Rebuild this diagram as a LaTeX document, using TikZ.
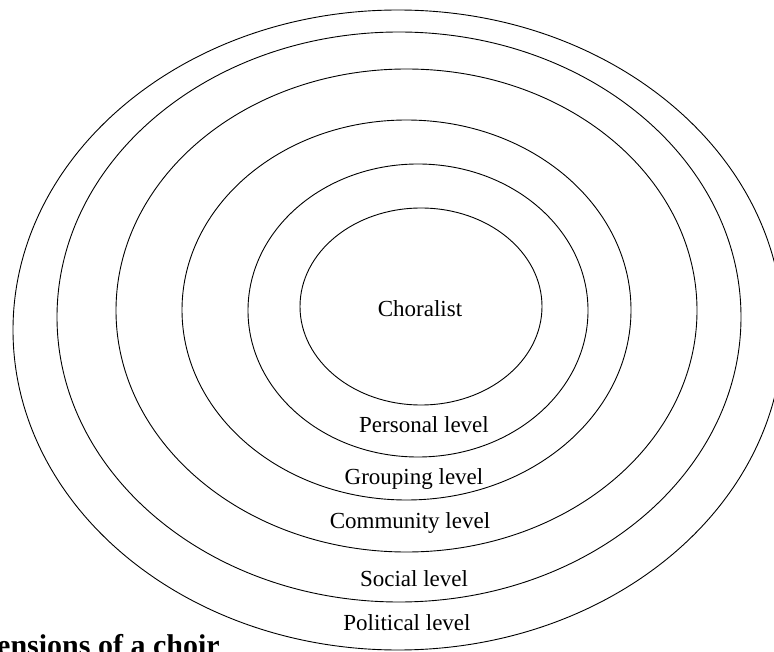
\documentclass[tikz,border=0pt]{standalone}
\usepackage{fontspec}
\setmainfont{Liberation Serif}
\usetikzlibrary{shapes.geometric}
\tikzset{
  ring/.style={ellipse, draw=black, line width=0.9pt, inner sep=0pt, outer sep=0pt},
  lvl/.style={anchor=base, inner sep=0pt, font=\fontsize{23}{27}\selectfont},
  ttl/.style={anchor=base west, inner sep=0pt, font=\fontsize{30}{34}\selectfont\bfseries}
}
\begin{document}
\begin{tikzpicture}[x=1pt,y=-1pt]
\clip (0,0) rectangle (774,652);
\fill[white] (0,0) rectangle (774,652);
\node[ring, minimum width=770pt, minimum height=640pt] (political) at (398,330) {};
\node[ring, minimum width=684pt, minimum height=570pt] (social) at (399,317) {};
\node[ring, minimum width=581pt, minimum height=483pt] (community) at (406.5,310.5) {};
\node[ring, minimum width=449pt, minimum height=380pt] (grouping) at (406.5,310) {};
\node[ring, minimum width=340pt, minimum height=293pt] (personal) at (418,310.5) {};
\node[ring, minimum width=242pt, minimum height=197pt] (choralist) at (421,306.5) {};
\node[lvl] (tchoralist) at (420,317) {Choralist};
\node[lvl] (tpersonal) at (424,432) {Personal level};
\node[lvl] (tgrouping) at (414,484) {Grouping level};
\node[lvl] (tcommunity) at (410,528) {Community level};
\node[lvl] (tsocial) at (414,586) {Social level};
\node[lvl] (tpolitical) at (407,630) {Political level};
\node[ttl] (title) at (-3,655.7) {ensions of a choir};
\end{tikzpicture}
\end{document}
